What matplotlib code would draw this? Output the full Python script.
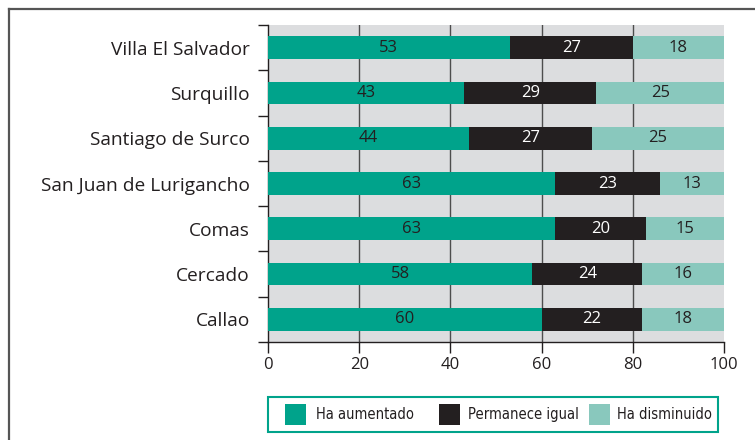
import matplotlib
matplotlib.use("Agg")
import matplotlib.pyplot as plt
import numpy as np
from matplotlib.lines import Line2D
from matplotlib.patches import Rectangle
from matplotlib.font_manager import FontProperties

plt.rcParams['font.family'] = ['Open Sans', 'DejaVu Sans']

categories = ["Villa El Salvador", "Surquillo", "Santiago de Surco",
              "San Juan de Lurigancho", "Comas", "Cercado", "Callao"]
aumentado = [53, 43, 44, 63, 63, 58, 60]
igual = [27, 29, 27, 23, 20, 24, 22]
disminuido = [18, 25, 25, 13, 15, 16, 18]
series_names = ["Ha aumentado", "Permanece igual", "Ha disminuido"]
xticks = [0, 20, 40, 60, 80, 100]

c_green = "#00a38b"
c_dark = "#231f20"
c_light = "#89c8bd"
c_bg = "#dcdddf"
series_colors = [c_green, c_dark, c_light]

W, H = 755, 440
fig = plt.figure(figsize=(W/100, H/100), dpi=100)
ax = fig.add_axes([268/W, 1-342/H, (724-268)/W, (342-25)/H])
ax.set_facecolor(c_bg)

n = len(categories)
y = np.arange(n)[::-1]
a = np.array(aumentado, float)
g = np.array(igual, float)
rest = 100 - a - g

h = 0.5
b1 = ax.barh(y, a, height=h, color=c_green, label=series_names[0], zorder=3)
b2 = ax.barh(y, g, left=a, height=h, color=c_dark, label=series_names[1], zorder=3)
b3 = ax.barh(y, rest, left=a + g, height=h, color=c_light, label=series_names[2], zorder=3)

vfs = 12
for i in range(n):
    ax.text(a[i]/2, y[i], str(aumentado[i]), ha='center', va='center',
            fontsize=vfs, color="#231f20", zorder=4)
    ax.text(a[i] + g[i]/2, y[i], str(igual[i]), ha='center', va='center',
            fontsize=vfs, color="white", zorder=4)
    ax.text(a[i] + g[i] + rest[i]/2, y[i], str(disminuido[i]), ha='center', va='center',
            fontsize=vfs, color="#231f20", zorder=4)

ax.set_xlim(0, 100)
ax.set_ylim(-0.5, n - 0.5)
ax.set_xticks(xticks)
ax.set_xticklabels([str(t) for t in xticks], fontsize=12, color="#231f20")
ax.set_yticks(y)
ax.set_yticklabels(categories, fontsize=13.8, color="#231f20")
ax.set_yticks(np.arange(n + 1) - 0.5, minor=True)
ax.tick_params(axis='y', which='major', length=0, pad=13)
ax.tick_params(axis='y', which='minor', length=7.2, width=1, color="#231f20", direction='out')
ax.tick_params(axis='x', which='major', length=8, width=1, color="#231f20", pad=3)
for t in [20, 40, 60, 80]:
    ax.axvline(t, color="#4d4d4d", lw=1, zorder=1)
for s in ['top', 'right']:
    ax.spines[s].set_visible(False)
for s in ['left', 'bottom']:
    ax.spines[s].set_color("#231f20")
    ax.spines[s].set_linewidth(1)

# legend (drawn manually to match the boxed layout)
def fx(px):
    return px / W

def fy(py):
    return 1 - py / H

fig.add_artist(Rectangle((fx(268), fy(432)), fx(718) - fx(268), fy(397) - fy(432),
                         transform=fig.transFigure, fill=False,
                         edgecolor=c_green, linewidth=1.5))
legprop = FontProperties(family='DejaVu Sans', stretch='condensed', size=10.5)
patch_x = [285, 439, 589]
text_x = [316, 468, 617]
for name, col, px, tx in zip(series_names, series_colors, patch_x, text_x):
    fig.add_artist(Rectangle((fx(px), fy(425)), fx(21), 21 / H,
                             transform=fig.transFigure, facecolor=col, edgecolor='none'))
    fig.text(fx(tx), fy(414.5), name, ha='left', va='center',
             fontproperties=legprop, color="#231f20")

# outer frame
fig.add_artist(Line2D([9/W, 1.0], [1-9/H, 1-9/H], transform=fig.transFigure,
                      color="#555555", lw=1.6))
fig.add_artist(Line2D([9/W, 9/W], [0.0, 1-9/H], transform=fig.transFigure,
                      color="#555555", lw=1.6))

fig.savefig("out.png", dpi=100)
